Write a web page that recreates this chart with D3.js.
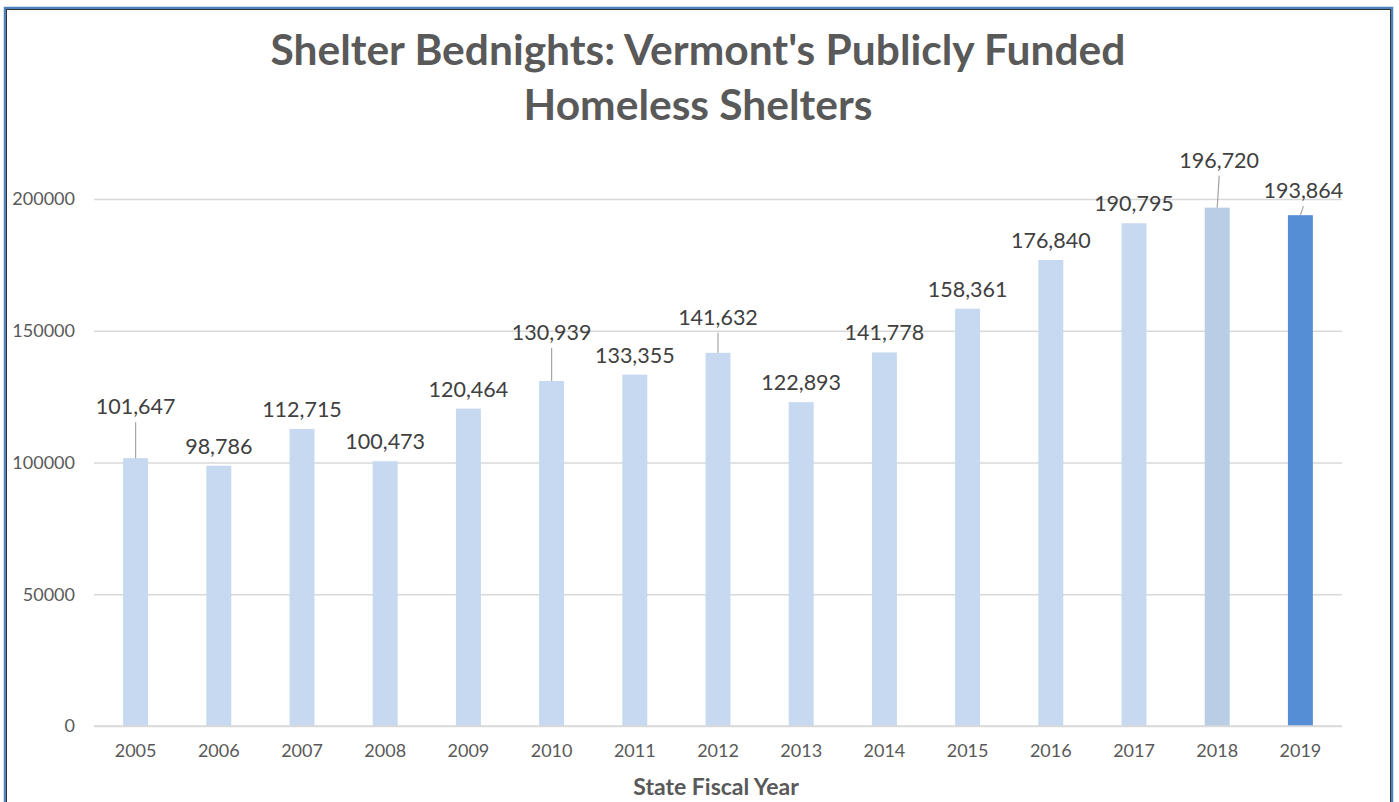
<!DOCTYPE html>
<html>
<head>
<meta charset="utf-8">
<script src="https://cdn.jsdelivr.net/npm/d3@7"></script>
<style>
	body { margin: 0; background: #fff; }
	svg text { font-family: Lato, "Open Sans", sans-serif; }
</style>
</head>
<body>
<div id="chart"></div>
<script>

var years = ['2005','2006','2007','2008','2009','2010','2011','2012','2013','2014','2015','2016','2017','2018','2019'];
var bednights = [101647, 98786, 112715, 100473, 120464, 130939, 133355, 141632, 122893, 141778, 158361, 176840, 190795, 196720, 193864];
var yTicks = [0, 50000, 100000, 150000, 200000];

// label nudges (px) for the labels that were dragged off the bar
var labelShift = {
	'2005': [0, -32], '2010': [0, -29], '2012': [0, -16],
	'2018': [2, -28], '2019': [3, -5]
};

var barColor = {'2018': '#b9cde5', '2019': '#558ed5'};

var chart = {
	width: 1399, height: 802,
	left: 94, right: 1342, top: 199, bottom: 726
};

var svg = d3.select('#chart')
	.append('svg')
	.attr('width', chart.width)
	.attr('height', chart.height);

// frame
svg.append('rect')
	.attr('x', 5).attr('y', 8)
	.attr('width', 1387).attr('height', 810)
	.attr('fill', 'none')
	.attr('stroke', '#4f81bd')
	.attr('stroke-width', 2.5);
svg.append('rect')
	.attr('x', 6.5).attr('y', 9.5)
	.attr('width', 1384).attr('height', 810)
	.attr('fill', 'none')
	.attr('stroke', '#333')
	.attr('stroke-width', 1);

var xScale = d3.scaleBand()
	.domain(years)
	.range([chart.left, chart.right])
	.paddingInner(0.7)
	.paddingOuter(0.35);

var yScale = d3.scaleLinear()
	.domain([0, 200000])
	.range([chart.bottom, chart.top]);

// gridlines + y labels
var yAxis = d3.axisLeft(yScale)
	.tickValues(yTicks)
	.tickSize(-(chart.right - chart.left))
	.tickFormat(d3.format('d'))
	.tickPadding(19);

var yg = svg.append('g')
	.attr('transform', 'translate(' + chart.left + ',0)')
	.call(yAxis);
yg.select('.domain').remove();
yg.selectAll('.tick line').attr('stroke', '#d9d9d9').attr('stroke-width', 1.3);
yg.selectAll('.tick text')
	.attr('fill', '#595959')
	.style('font-size', '18px');

// bars
svg.selectAll('.bar')
	.data(years)
	.enter().append('rect')
	.attr('class', 'bar')
	.attr('x', function (d) { return xScale(d); })
	.attr('width', xScale.bandwidth())
	.attr('y', function (d, i) { return yScale(bednights[i]); })
	.attr('height', function (d, i) { return chart.bottom - yScale(bednights[i]); })
	.attr('fill', function (d) { return barColor[d] || '#c6d9f1'; });

// x labels
var xAxis = d3.axisBottom(xScale).tickSize(0).tickPadding(18);
var xg = svg.append('g')
	.attr('transform', 'translate(0,' + chart.bottom + ')')
	.call(xAxis);
xg.select('.domain').attr('stroke', '#d9d9d9').attr('stroke-width', 1.3)
	.attr('d', 'M' + chart.left + ',0H' + chart.right);
xg.selectAll('.tick text')
	.attr('fill', '#595959')
	.style('font-size', '18px');

// data labels
var fmt = d3.format(',');
years.forEach(function (yr, i) {
	var cx = xScale(yr) + xScale.bandwidth() / 2;
	var top = yScale(bednights[i]);
	var s = labelShift[yr] || [0, 0];
	var lx = cx + s[0], ly = top - 20 + s[1];
	if (labelShift[yr]) {
		svg.append('line')
			.attr('x1', lx).attr('y1', ly + 16)
			.attr('x2', cx).attr('y2', top)
			.attr('stroke', '#a6a6a6')
			.attr('stroke-width', 1.2);
	}
	svg.append('text')
		.attr('x', lx).attr('y', ly)
		.attr('text-anchor', 'middle')
		.attr('dominant-baseline', 'central')
		.attr('fill', '#404040')
		.style('font-size', '21.5px')
		.text(fmt(bednights[i]));
});

// title
var title = svg.append('text')
	.attr('text-anchor', 'middle')
	.attr('fill', '#595959')
	.style('font-size', '42.5px')
	.style('font-weight', 'bold');
title.append('tspan').attr('x', 698).attr('y', 65).text("Shelter Bednights: Vermont's Publicly Funded");
title.append('tspan').attr('x', 698).attr('y', 120).text('Homeless Shelters');

svg.append('text')
	.attr('x', 716).attr('y', 795)
	.attr('text-anchor', 'middle')
	.attr('fill', '#595959')
	.style('font-size', '23px')
	.style('font-weight', 'bold')
	.text('State Fiscal Year');

</script>
</body>
</html>
